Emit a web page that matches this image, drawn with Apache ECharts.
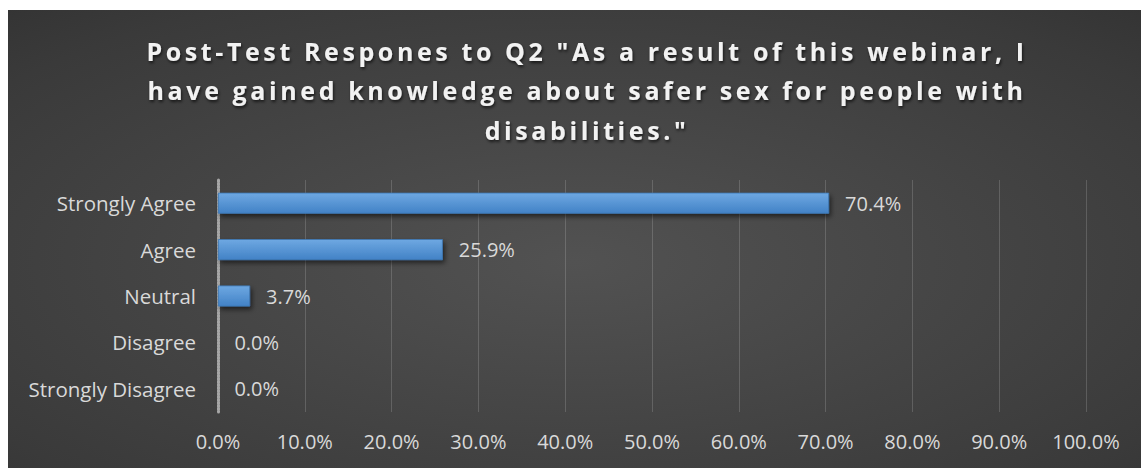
<!DOCTYPE html>
<html>
<head>
<meta charset="utf-8">
<script src="https://cdn.jsdelivr.net/npm/echarts@6/dist/echarts.min.js"></script>
<style>
  html, body { margin: 0; padding: 0; background: #ffffff; }
  #chart { position: absolute; left: 8px; top: 10px; width: 1133px; height: 458px; }
</style>
</head>
<body>
<div id="chart"></div>
<script>
// Survey answers, listed top to bottom as shown
const categories = ['Strongly Agree', 'Agree', 'Neutral', 'Disagree', 'Strongly Disagree'];
const shares = [70.4, 25.9, 3.7, 0.0, 0.0];
const tickValues = [0, 10, 20, 30, 40, 50, 60, 70, 80, 90, 100];
const titleLines = [
  'Post-Test Respones to Q2 "As a result of this webinar, I',
  'have gained knowledge about safer sex for people with',
  'disabilities."'
];

const chart = echarts.init(document.getElementById('chart'), null, { renderer: 'svg' });

const labelColor = '#d9d9d9';
const baseFont = '"Open Sans", "Liberation Sans", sans-serif';

// Spread the heading letters out a little once the SVG is in place
function spaceTitle() {
  document.querySelectorAll('#chart svg text').forEach(t => {
    if (titleLines.includes(t.textContent)) {
      t.style.letterSpacing = '3.6px';
    }
  });
}
chart.on('finished', spaceTitle);

chart.setOption({
  animation: false,
  backgroundColor: {
    type: 'radial', x: 0.5, y: 0.55, r: 1.15,
    colorStops: [
      { offset: 0, color: '#525252' },
      { offset: 0.55, color: '#3a3a3a' },
      { offset: 1, color: '#1f1f1f' }
    ]
  },
  graphic: [{
    type: 'text',
    x: 579, y: 21,
    style: {
      text: titleLines.join('\n'),
      fill: '#f2f2f2',
      font: 'bold 25px ' + baseFont,
      textAlign: 'center',
      textVerticalAlign: 'top',
      lineHeight: 39.5,
      textShadowColor: 'rgba(0,0,0,0.65)',
      textShadowBlur: 3,
      textShadowOffsetX: 1,
      textShadowOffsetY: 2
    }
  }],
  grid: { left: 210, right: 55, top: 170, bottom: 56, containLabel: false },
  xAxis: {
    type: 'value',
    min: 0, max: 100, interval: 10,
    axisLine: { show: false },
    axisTick: { show: false },
    splitLine: { show: true, lineStyle: { color: 'rgba(255,255,255,0.16)', width: 1 } },
    axisLabel: {
      color: labelColor, fontSize: 20, fontFamily: baseFont, margin: 19,
      formatter: v => tickValues.includes(v) ? v.toFixed(1) + '%' : ''
    }
  },
  yAxis: {
    type: 'category',
    data: categories,
    inverse: true,
    axisLine: { show: true, lineStyle: { color: '#a6a6a6', width: 3, type: [2, 1] } },
    axisTick: { show: false },
    axisLabel: { color: labelColor, fontSize: 20.5, fontFamily: baseFont, margin: 22 }
  },
  series: [{
    type: 'bar',
    data: shares,
    barWidth: 21,
    itemStyle: {
      color: {
        type: 'linear', x: 0, y: 0, x2: 0, y2: 1,
        colorStops: [
          { offset: 0, color: '#6ea8e2' },
          { offset: 1, color: '#4282c6' }
        ]
      },
      borderColor: '#3e78b6',
      borderWidth: 0.8,
      shadowColor: 'rgba(0,0,0,0.55)',
      shadowBlur: 5,
      shadowOffsetX: 2,
      shadowOffsetY: 3
    },
    label: {
      show: true,
      position: 'right',
      distance: 16,
      color: labelColor,
      fontSize: 20,
      fontFamily: baseFont,
      formatter: p => p.value.toFixed(1) + '%'
    }
  }]
});
spaceTitle();
</script>
</body>
</html>
